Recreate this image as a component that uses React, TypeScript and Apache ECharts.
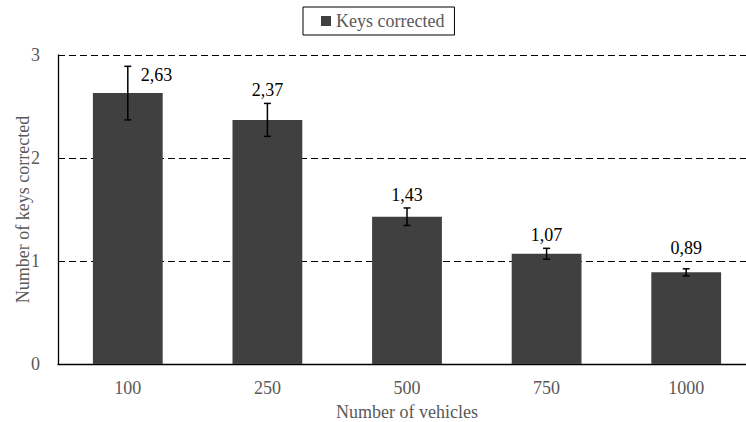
import React, { useEffect, useRef } from 'react';
import * as echarts from 'echarts';

const categories = ['100', '250', '500', '750', '1000'];
const keysCorrected = [2.63, 2.37, 1.43, 1.07, 0.89];
const errorMargins = [0.26, 0.16, 0.085, 0.053, 0.034];
const seriesName = 'Keys corrected';
const xAxisTitle = 'Number of vehicles';
const yAxisTitle = 'Number of keys corrected';

const FONT = "'Liberation Serif', 'Times New Roman', serif";
// extra upward nudge (px) of each value label, a styling tweak only
const LABEL_LIFT = [0, 0, 0, 0, 8];

export default function App() {
  const ref = useRef<HTMLDivElement>(null);
  useEffect(() => {
    const chart = echarts.init(ref.current!, null, { renderer: 'svg' });
    const errData = keysCorrected.map((v, i) => [i, v, errorMargins[i]]);
    chart.setOption({
      animation: false,
      textStyle: { fontFamily: FONT },
      legend: {
        data: [seriesName],
        left: 303,
        top: 7,
        borderColor: '#000',
        borderWidth: 1,
        padding: [5, 10, 5, 18],
        itemWidth: 10,
        itemHeight: 10,
        itemGap: 5,
        icon: 'rect',
        textStyle: { color: '#595959', fontSize: 18, fontFamily: FONT },
      },
      grid: { left: 58, right: -10, top: 55, bottom: 58, outerBoundsMode: 'none', containLabel: false },
      xAxis: {
        type: 'category',
        data: categories,
        axisLine: { lineStyle: { color: '#000', width: 1.3 } },
        axisTick: { show: false },
        axisLabel: { color: '#595959', fontSize: 18, margin: 15, fontFamily: FONT },
        name: xAxisTitle,
        nameLocation: 'middle',
        nameGap: 39,
        nameMoveOverlap: false,
        nameTextStyle: { color: '#595959', fontSize: 18, fontFamily: FONT },
      },
      yAxis: {
        type: 'value',
        min: 0,
        max: 3,
        interval: 1,
        axisLine: { show: true, lineStyle: { color: '#000', width: 1.3 } },
        axisTick: { show: false },
        axisLabel: { color: '#595959', fontSize: 18, margin: 18, fontFamily: FONT },
        splitLine: { lineStyle: { type: [7, 4], color: '#000', width: 1 } },
        name: yAxisTitle,
        nameLocation: 'middle',
        nameGap: 26,
        nameMoveOverlap: false,
        nameTextStyle: { color: '#595959', fontSize: 18, fontFamily: FONT },
      },
      series: [
        {
          type: 'bar',
          name: seriesName,
          data: keysCorrected,
          barWidth: '50%',
          itemStyle: { color: '#404040' },
        },
        {
          type: 'custom',
          data: errData,
          z: 10,
          renderItem: (params: any, api: any) => {
            const i = api.value(0);
            const v = api.value(1);
            const e = api.value(2);
            const top = api.coord([i, v + e]);
            const bot = api.coord([i, v - e]);
            const x = top[0];
            const cap = 3.5;
            const first = params.dataIndex === 0;
            const label = v.toFixed(2).replace('.', ',');
            const stroke = { stroke: '#000', lineWidth: 1.5 };
            const lift = LABEL_LIFT[params.dataIndex] || 0;
            return {
              type: 'group',
              children: [
                { type: 'line', shape: { x1: x, y1: top[1], x2: x, y2: bot[1] }, style: stroke },
                { type: 'line', shape: { x1: x - cap, y1: top[1], x2: x + cap, y2: top[1] }, style: stroke },
                { type: 'line', shape: { x1: x - cap, y1: bot[1], x2: x + cap, y2: bot[1] }, style: stroke },
                {
                  type: 'text',
                  x: first ? x + 13 : x,
                  y: first ? top[1] + 9 : top[1] - 13 - lift,
                  style: {
                    text: label,
                    fill: '#000',
                    fontSize: 18,
                    fontFamily: FONT,
                    align: first ? 'left' : 'center',
                    verticalAlign: 'middle',
                  },
                },
              ],
            };
          },
        },
      ],
    });
    return () => chart.dispose();
  }, []);
  return (
    <div
      ref={ref}
      style={{ position: 'fixed', left: 0, top: 0, width: 746, height: 422, background: '#fff' }}
    />
  );
}
